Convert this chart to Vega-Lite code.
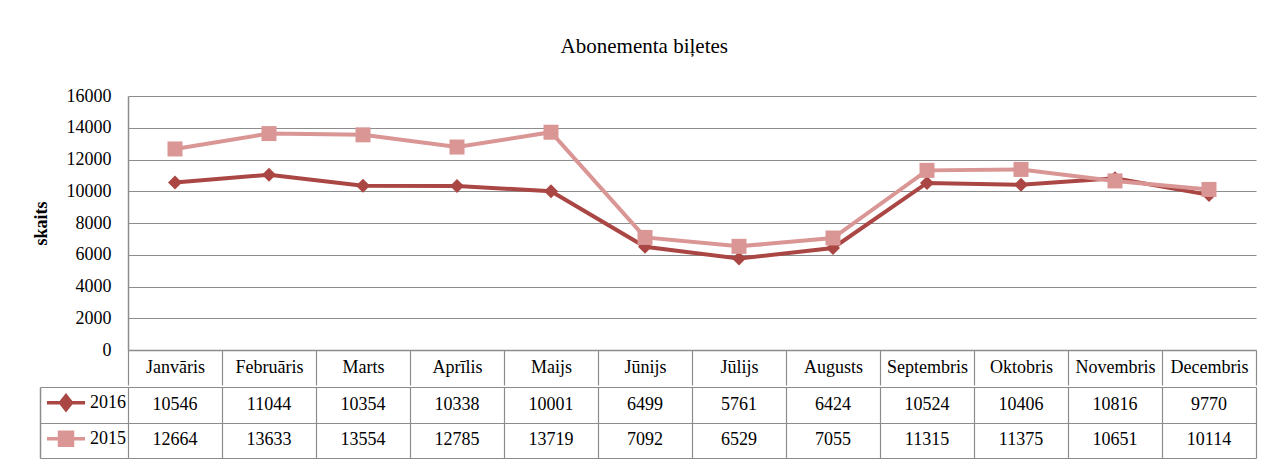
{
  "$schema": "https://vega.github.io/schema/vega-lite/v6.json",
  "padding": {"left": 32, "top": 36, "right": 5, "bottom": 0},
  "background": "white",
  "title": {"text": "Abonementa biļetes", "font": "Liberation Serif", "fontSize": 21, "fontWeight": "normal", "color": "black", "anchor": "middle", "offset": 30},
  "datasets": {
    "d": [
      {"month": "Janvāris", "series": "2016", "value": 10546},
      {"month": "Februāris", "series": "2016", "value": 11044},
      {"month": "Marts", "series": "2016", "value": 10354},
      {"month": "Aprīlis", "series": "2016", "value": 10338},
      {"month": "Maijs", "series": "2016", "value": 10001},
      {"month": "Jūnijs", "series": "2016", "value": 6499},
      {"month": "Jūlijs", "series": "2016", "value": 5761},
      {"month": "Augusts", "series": "2016", "value": 6424},
      {"month": "Septembris", "series": "2016", "value": 10524},
      {"month": "Oktobris", "series": "2016", "value": 10406},
      {"month": "Novembris", "series": "2016", "value": 10816},
      {"month": "Decembris", "series": "2016", "value": 9770},
      {"month": "Janvāris", "series": "2015", "value": 12664},
      {"month": "Februāris", "series": "2015", "value": 13633},
      {"month": "Marts", "series": "2015", "value": 13554},
      {"month": "Aprīlis", "series": "2015", "value": 12785},
      {"month": "Maijs", "series": "2015", "value": 13719},
      {"month": "Jūnijs", "series": "2015", "value": 7092},
      {"month": "Jūlijs", "series": "2015", "value": 6529},
      {"month": "Augusts", "series": "2015", "value": 7055},
      {"month": "Septembris", "series": "2015", "value": 11315},
      {"month": "Oktobris", "series": "2015", "value": 11375},
      {"month": "Novembris", "series": "2015", "value": 10651},
      {"month": "Decembris", "series": "2015", "value": 10114}
    ]
  },
  "spacing": 0,
  "resolve": {"scale": {"x": "independent", "y": "independent", "color": "independent", "shape": "independent", "size": "independent", "fill": "independent", "stroke": "independent"}},
  "vconcat": [
    {
      "width": 1128,
      "height": 254,
      "data": {"name": "d"},
      "encoding": {
        "x": {"field": "month", "type": "ordinal", "title": null, "bandPosition": 0.5,
          "sort": ["Janvāris", "Februāris", "Marts", "Aprīlis", "Maijs", "Jūnijs", "Jūlijs", "Augusts", "Septembris", "Oktobris", "Novembris", "Decembris"],
          "scale": {"type": "band", "paddingInner": 0, "paddingOuter": 0},
          "axis": {"orient": "bottom", "grid": false, "domain": true, "ticks": true, "tickBand": "extent", "tickSize": 35, "labelPadding": -17.5, "labelBaseline": "middle", "labelAngle": 0, "labelFontSize": 18}},
        "y": {"field": "value", "type": "quantitative", "title": "skaits",
          "scale": {"domain": [0, 16000]},
          "axis": {"values": [0, 2000, 4000, 6000, 8000, 10000, 12000, 14000, 16000], "format": "d", "ticks": false, "labelPadding": 17, "labelFontSize": 18, "grid": true, "titleFontWeight": "bold", "titleFontSize": 18, "titlePadding": 16, "titleColor": "black"}}
      },
      "layer": [
        {
          "mark": {"type": "line", "strokeWidth": 4},
          "encoding": {
            "color": {"field": "series", "type": "nominal", "legend": null, "sort": ["2016", "2015"],
              "scale": {"domain": ["2016", "2015"], "range": ["#AA4643", "#D99694"]}}
          }
        },
        {
          "mark": {"type": "point", "filled": true, "opacity": 1},
          "encoding": {
            "color": {"field": "series", "type": "nominal", "legend": null,
              "scale": {"domain": ["2016", "2015"], "range": ["#AA4643", "#D99694"]}},
            "shape": {"field": "series", "type": "nominal", "legend": null,
              "scale": {"domain": ["2016", "2015"], "range": ["diamond", "square"]}},
            "size": {"field": "series", "type": "nominal", "legend": null,
              "scale": {"domain": ["2016", "2015"], "range": [196, 225]}}
          }
        }
      ]
    },
    {
      "width": 1128,
      "height": 71,
      "data": {"name": "d"},
      "encoding": {
        "x": {"field": "month", "type": "ordinal", "title": null,
          "sort": ["Janvāris", "Februāris", "Marts", "Aprīlis", "Maijs", "Jūnijs", "Jūlijs", "Augusts", "Septembris", "Oktobris", "Novembris", "Decembris"],
          "scale": {"type": "band", "paddingInner": 0, "paddingOuter": 0},
          "axis": {"grid": true, "tickBand": "extent", "labels": false, "ticks": false, "domain": false}},
        "y": {"field": "series", "type": "nominal", "title": null, "sort": ["2016", "2015"],
          "scale": {"type": "band", "paddingInner": 0, "paddingOuter": 0},
          "axis": {"grid": true, "tickBand": "extent", "labels": false, "ticks": true, "tickSize": -88, "offset": 88, "domain": true}}
      },
      "layer": [
        {
          "mark": {"type": "text", "font": "Liberation Serif", "fontSize": 18, "color": "black"},
          "encoding": {"text": {"field": "value", "type": "quantitative", "format": "d"}}
        },
        {
          "mark": {"type": "point", "filled": true, "opacity": 0},
          "encoding": {
            "fill": {"field": "series", "type": "nominal",
              "scale": {"domain": ["2016", "2015"], "range": ["#AA4643", "#D99694"]}},
            "stroke": {"field": "series", "type": "nominal",
              "scale": {"domain": ["2016", "2015"], "range": ["#AA4643", "#D99694"]}},
            "shape": {"field": "series", "type": "nominal",
              "scale": {"domain": ["2016", "2015"], "range": ["M-1.9,0L1.9,0M0,-0.7L0.55,0L0,0.7L-0.55,0Z", "M-1.9,0L1.9,0M-0.65,-0.65L0.65,-0.65L0.65,0.65L-0.65,0.65Z"]},
              "legend": {"orient": "none", "legendX": -74, "legendY": 3.75, "title": null, "padding": 0, "symbolSize": 400, "symbolStrokeWidth": 3.5, "symbolOpacity": 1, "labelFont": "Liberation Serif", "labelFontSize": 18, "labelColor": "black", "labelOffset": 12, "rowPadding": 8, "direction": "vertical"}}
          }
        }
      ]
    }
  ],
  "config": {
    "view": {"stroke": null},
    "axis": {"labelFont": "Liberation Serif", "labelColor": "black", "titleFont": "Liberation Serif", "domainColor": "#8c8c8c", "tickColor": "#8c8c8c", "gridColor": "#8c8c8c", "domainWidth": 1.5, "gridWidth": 1.2, "tickWidth": 1.2}
  }
}
